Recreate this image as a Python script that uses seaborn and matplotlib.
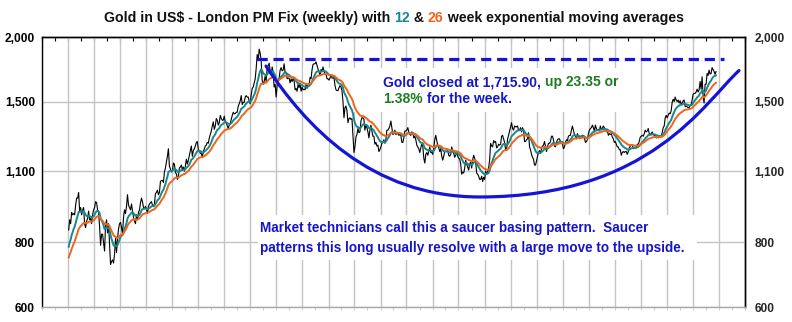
import numpy as np
import pandas as pd
import matplotlib
matplotlib.use("Agg")
import matplotlib.pyplot as plt
import matplotlib.dates as mdates
from matplotlib.ticker import FixedLocator, NullFormatter, NullLocator, FixedFormatter
from matplotlib.patches import Rectangle, PathPatch
from matplotlib.path import Path
import seaborn as sns

# Weekly London PM fix closes (US$/oz), one list per calendar year, Friday closes
gold_2008 = [845, 885, 870, 915, 905, 910, 905, 945, 975, 975, 1000, 920, 935,
             905, 925, 935, 870, 855, 880, 890, 920, 885, 890, 870, 905, 925,
             935, 960, 955, 925, 915, 860, 790, 830, 830, 800, 770, 865, 885,
             835, 870, 790, 725, 735, 740, 730, 760, 815, 765, 815, 850, 870]
gold_2009 = [875, 855, 830, 895, 925, 910, 940, 990, 945, 935, 925, 950, 920,
             895, 880, 870, 905, 885, 915, 925, 955, 975, 960, 935, 930, 940,
             930, 910, 940, 950, 955, 960, 945, 940, 950, 995, 1000, 1010, 990,
             1000, 1050, 1055, 1055, 1045, 1095, 1115, 1145, 1175, 1215, 1125, 1110, 1095]
gold_2010 = [1100, 1140, 1135, 1095, 1085, 1060, 1075, 1115, 1120, 1130, 1105, 1120, 1100,
             1125, 1160, 1135, 1155, 1180, 1205, 1230, 1175, 1205, 1215, 1230, 1250, 1255,
             1210, 1205, 1190, 1190, 1170, 1200, 1215, 1230, 1235, 1250, 1245, 1275, 1295,
             1315, 1345, 1370, 1325, 1345, 1390, 1380, 1350, 1365, 1410, 1390, 1380, 1380, 1405]
gold_2011 = [1370, 1365, 1345, 1330, 1350, 1360, 1385, 1410, 1430, 1420, 1420, 1430,
             1430, 1470, 1485, 1505, 1540, 1480, 1495, 1495, 1530, 1540, 1530, 1530, 1500,
             1485, 1545, 1590, 1600, 1630, 1660, 1740, 1850, 1800, 1895, 1860, 1800, 1650, 1620,
             1640, 1680, 1640, 1745, 1760, 1780, 1720, 1690, 1750, 1710, 1600, 1620, 1530]
gold_2012 = [1610, 1640, 1665, 1725, 1745, 1720, 1725, 1775, 1705, 1710, 1660, 1665, 1665,
             1630, 1660, 1640, 1660, 1645, 1580, 1590, 1570, 1620, 1595, 1625, 1570, 1600,
             1580, 1585, 1580, 1620, 1590, 1620, 1615, 1670, 1660, 1730, 1770, 1775, 1775,
             1790, 1760, 1735, 1710, 1685, 1730, 1715, 1750, 1715, 1700, 1695, 1660, 1660]
gold_2013 = [1650, 1665, 1690, 1665, 1665, 1670, 1610, 1580, 1575, 1575, 1595, 1610, 1600,
             1575, 1500, 1395, 1460, 1470, 1440, 1365, 1390, 1395, 1385, 1390, 1285, 1195,
             1225, 1280, 1295, 1330, 1305, 1310, 1375, 1395, 1395, 1385, 1320, 1350, 1335,
             1310, 1275, 1320, 1350, 1315, 1285, 1285, 1240, 1250, 1230, 1235, 1200, 1210]
gold_2014 = [1225, 1245, 1250, 1265, 1245, 1265, 1320, 1320, 1330, 1345, 1375, 1335, 1295,
             1300, 1320, 1295, 1300, 1300, 1290, 1295, 1290, 1250, 1250, 1275, 1315, 1315,
             1320, 1335, 1310, 1295, 1290, 1310, 1305, 1275, 1285, 1265, 1235, 1225, 1215,
             1195, 1220, 1240, 1230, 1165, 1140, 1185, 1195, 1180, 1200, 1225, 1195, 1195]
gold_2015 = [1185, 1220, 1265, 1290, 1260, 1235, 1220, 1200, 1215, 1175, 1155, 1175, 1200,
             1200, 1200, 1205, 1180, 1175, 1185, 1225, 1205, 1190, 1170, 1180, 1200, 1175,
             1165, 1160, 1135, 1085, 1095, 1090, 1115, 1155, 1135, 1120, 1105, 1135, 1145,
             1115, 1155, 1180, 1165, 1145, 1090, 1085, 1075, 1060, 1060, 1075, 1050, 1070]
gold_2016 = [1060, 1100, 1085, 1095, 1115, 1155, 1245, 1230, 1225, 1260, 1250, 1255, 1220,
             1225, 1240, 1235, 1240, 1285, 1290, 1270, 1250, 1210, 1210, 1270, 1290, 1315,
             1340, 1365, 1330, 1320, 1345, 1340, 1340, 1345, 1320, 1320, 1335, 1310, 1335, 1320,
             1255, 1255, 1265, 1270, 1305, 1225, 1210, 1185, 1170, 1160, 1130, 1130, 1150]
gold_2017 = [1175, 1195, 1205, 1190, 1215, 1230, 1235, 1255, 1230, 1200, 1225, 1245, 1245,
             1255, 1285, 1285, 1265, 1230, 1225, 1250, 1265, 1270, 1270, 1255, 1255, 1240,
             1215, 1225, 1250, 1265, 1260, 1285, 1290, 1290, 1320, 1345, 1320, 1295, 1285,
             1270, 1300, 1285, 1270, 1275, 1285, 1290, 1290, 1275, 1250, 1255, 1265, 1300]
gold_2018 = [1320, 1330, 1335, 1350, 1335, 1315, 1350, 1330, 1320, 1325, 1315, 1345, 1325,
             1330, 1345, 1335, 1320, 1310, 1320, 1290, 1300, 1295, 1300, 1280, 1270, 1250,
             1255, 1240, 1225, 1225, 1210, 1210, 1180, 1195, 1200, 1195, 1200, 1200, 1185,
             1200, 1220, 1230, 1235, 1235, 1215, 1220, 1225, 1220, 1240, 1240, 1255, 1280]
gold_2019 = [1285, 1290, 1285, 1300, 1320, 1310, 1315, 1330, 1300, 1295, 1300, 1310, 1295,
             1290, 1290, 1275, 1280, 1275, 1285, 1280, 1285, 1305, 1335, 1345, 1395, 1410,
             1395, 1410, 1425, 1420, 1440, 1495, 1515, 1500, 1530, 1510, 1500, 1510, 1490,
             1505, 1480, 1490, 1505, 1510, 1465, 1470, 1465, 1460, 1460, 1475, 1480, 1510]
gold_2020 = [1550, 1555, 1555, 1565, 1585, 1565, 1580, 1640, 1585, 1675, 1530, 1490, 1620,
             1620, 1700, 1685, 1725, 1695, 1700, 1745, 1730, 1715, 1692.55, 1715.90]

first_week = "2008-01-04"
ema_fast_span, ema_slow_span = 12, 26
ema_fast_seed, ema_slow_seed = 773, 740

price_ticks = [600, 800, 1100, 1500, 2000]
price_labels = ["600", "800", "1,100", "1,500", "2,000"]
x_start, x_end = "2007-07-01", "2021-01-01"

# Saucer outline: two cubic Bezier arcs (anchor, control, control, anchor, ...)
saucer_dates = ["2011-10-20", "2012-07-20", "2013-10-19", "2015-11-29",
                "2019-03-06", "2020-03-25", "2020-11-20"]
saucer_prices = [1757, 1351, 980, 980, 980, 1497, 1722]
# Prior-high reference line
prior_high = 1815
prior_high_dates = ["2011-08-19", "2020-08-05"]

TEAL = "#17898b"
ORANGE = "#f0641e"
BLUE_TXT = "#1616c8"
GREEN_TXT = "#1f7a24"
BLUE_LINE = "#1414d6"

sns.set_theme(style="white")
plt.rcParams["font.family"] = ["Liberation Sans", "DejaVu Sans"]

closes = (gold_2008 + gold_2009 + gold_2010 + gold_2011 + gold_2012 + gold_2013 +
          gold_2014 + gold_2015 + gold_2016 + gold_2017 + gold_2018 + gold_2019 + gold_2020)
df = pd.DataFrame({"date": pd.date_range(first_week, periods=len(closes), freq="W-FRI"),
                   "close": np.asarray(closes, dtype=float)})


def ema(values, span, seed):
    s = pd.Series([seed] + list(values), dtype=float)
    return s.ewm(span=span, adjust=False).mean().iloc[1:].to_numpy()


df["ema_fast"] = ema(df["close"], ema_fast_span, ema_fast_seed)
df["ema_slow"] = ema(df["close"], ema_slow_span, ema_slow_seed)

high_line = pd.DataFrame({"date": pd.to_datetime(prior_high_dates),
                          "price": [prior_high] * len(prior_high_dates)})

fig = plt.figure(figsize=(7.92, 3.22), dpi=100)
fig.patch.set_facecolor("white")
ax = fig.add_axes([42 / 792, 15 / 322, 703 / 792, 270 / 322])

ax.set_yscale("log")
ax.set_ylim(price_ticks[0], price_ticks[-1])
ax.set_xlim(pd.Timestamp(x_start), pd.Timestamp(x_end))

# White text panels sit over the grid but under the price lines
ax.add_patch(Rectangle((0.371, 0.722), 0.48, 0.163, transform=ax.transAxes,
                       facecolor="white", edgecolor="none", zorder=1))
ax.add_patch(Rectangle((0.307, 0.174), 0.625, 0.167, transform=ax.transAxes,
                       facecolor="white", edgecolor="none", zorder=1))

sns.lineplot(data=df, x="date", y="close", ax=ax, color="black", lw=0.8, zorder=2)
sns.lineplot(data=df, x="date", y="ema_fast", ax=ax, color=TEAL, lw=1.4, zorder=3)
sns.lineplot(data=df, x="date", y="ema_slow", ax=ax, color=ORANGE, lw=1.4, zorder=3)
sns.lineplot(data=high_line, x="date", y="price", ax=ax, color=BLUE_LINE, lw=2.3,
             zorder=4)
ax.lines[-1].set_dashes((3.2, 1.8))

saucer_xy = np.column_stack([mdates.date2num(pd.to_datetime(saucer_dates)),
                             np.asarray(saucer_prices, dtype=float)])
saucer_codes = [Path.MOVETO] + [Path.CURVE4] * (len(saucer_xy) - 1)
ax.add_patch(PathPatch(Path(saucer_xy, saucer_codes), facecolor="none",
                       edgecolor=BLUE_LINE, lw=2.3, capstyle="round", zorder=4))

ax.set_xlabel("")
ax.set_ylabel("")

# Axes, grid and ticks
ax.yaxis.set_major_locator(FixedLocator(price_ticks))
ax.yaxis.set_major_formatter(FixedFormatter(price_labels))
ax.yaxis.set_minor_locator(NullLocator())
ax.yaxis.set_minor_formatter(NullFormatter())
ax.tick_params(axis="y", which="both", length=0, pad=5, labelsize=8.6,
               labelcolor="black")
for lab in ax.get_yticklabels():
    lab.set_fontweight("bold")

ax.xaxis.set_major_locator(mdates.MonthLocator(bymonth=[1, 7]))
ax.xaxis.set_minor_locator(mdates.MonthLocator(bymonth=[1, 4, 7, 10]))
ax.xaxis.set_major_formatter(NullFormatter())
ax.xaxis.set_minor_formatter(NullFormatter())
ax.tick_params(axis="x", which="both", bottom=True, top=False, direction="out",
               length=2, color="#d0d0d0", width=0.8)

ax.grid(True, which="major", color="#c4c4c4", lw=1.0)
ax.grid(False, which="minor")
ax.set_axisbelow(True)

for side in ("left", "right", "top"):
    ax.spines[side].set_visible(True)
    ax.spines[side].set_color("black")
    ax.spines[side].set_linewidth(1.0)
ax.spines["bottom"].set_color("#a8a8a8")
ax.spines["bottom"].set_linewidth(1.0)

top = ax.secondary_xaxis("top")
top.xaxis.set_major_locator(mdates.MonthLocator(bymonth=[1, 4, 7, 10]))
top.xaxis.set_major_formatter(NullFormatter())
top.tick_params(direction="in", length=3, color="black", width=0.8)
top.spines["top"].set_color("black")
top.spines["top"].set_linewidth(1.0)

right = ax.secondary_yaxis("right")
right.yaxis.set_major_locator(FixedLocator(price_ticks))
right.yaxis.set_major_formatter(FixedFormatter(price_labels))
right.yaxis.set_minor_locator(NullLocator())
right.yaxis.set_minor_formatter(NullFormatter())
right.tick_params(length=0, pad=7, labelsize=8.6)
right.spines["right"].set_color("black")
right.spines["right"].set_linewidth(1.0)
for lab in right.get_yticklabels():
    lab.set_fontweight("bold")


def colored_line(x, y, pieces, size, transform):
    """Write consecutive text pieces, each in its own colour, on one line."""
    first_txt, first_col = pieces[0]
    prev = fig.text(x, y, first_txt, color=first_col, fontsize=size,
                    fontweight="bold", ha="left", va="bottom",
                    transform=transform, zorder=6)
    for txt, col in pieces[1:]:
        prev = ax.annotate(txt, xy=(1, 0), xycoords=prev, color=col,
                           fontsize=size, fontweight="bold",
                           ha="left", va="bottom", zorder=6,
                           annotation_clip=False)
    return prev


colored_line(104 / 792, 1 - 25 / 322,
             [("Gold in US$ - London PM Fix (weekly) with ", "#111111"),
              ("12", TEAL), (" & ", "#111111"), ("26", ORANGE),
              (" week exponential moving averages", "#111111")],
             10.15, fig.transFigure)

colored_line(0.485, 0.806,
             [("Gold closed at 1,715.90, ", BLUE_TXT), ("up 23.35 or", GREEN_TXT)],
             10, ax.transAxes)
colored_line(0.485, 0.743,
             [("1.38%", GREEN_TXT), (" for the week.", BLUE_TXT)],
             10, ax.transAxes)

colored_line(0.310, 0.265,
             [("Market technicians call this a saucer basing pattern.  Saucer", BLUE_TXT)],
             9.75, ax.transAxes)
colored_line(0.310, 0.194,
             [("patterns this long usually resolve with a large move to the upside.", BLUE_TXT)],
             9.75, ax.transAxes)

fig.savefig("out.png", dpi=100, facecolor="white")
